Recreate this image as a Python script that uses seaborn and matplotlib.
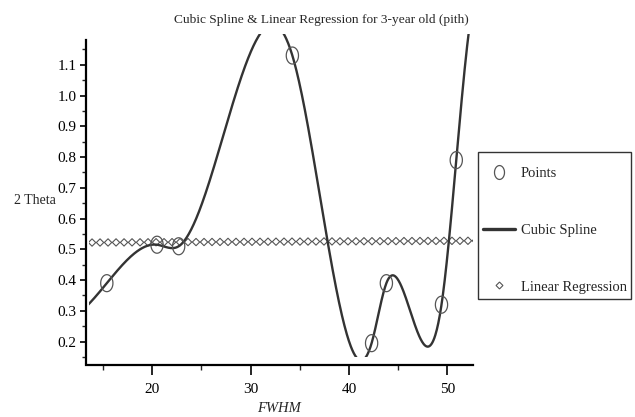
import numpy as np
import pandas as pd
import matplotlib
matplotlib.use("Agg")
import matplotlib.pyplot as plt
import seaborn as sns
from matplotlib.lines import Line2D
from matplotlib.patches import Rectangle

# ---- data ----
pts_x = [15.4, 20.5, 22.7, 34.25, 42.3, 43.8, 49.4, 50.9]
pts_y = [0.39, 0.515, 0.51, 1.13, 0.195, 0.39, 0.32, 0.79]
reg_intercept = 0.52
reg_slope = 0.00015
x_ticks = [20, 30, 40, 50]
x_minor = [15, 25, 35, 45]
y_ticks = [0.2, 0.3, 0.4, 0.5, 0.6, 0.7, 0.8, 0.9, 1.0, 1.1]
y_minor = [0.15, 0.25, 0.35, 0.45, 0.55, 0.65, 0.75, 0.85, 0.95, 1.05, 1.15]
title = "Cubic Spline & Linear Regression for 3-year old (pith)"
legend_labels = ["Points", "Cubic Spline", "Linear Regression"]


def natural_spline(xk, yk, xs):
    xk = np.asarray(xk, float); yk = np.asarray(yk, float)
    n = len(xk)
    h = np.diff(xk)
    A = np.zeros((n, n)); r = np.zeros(n)
    A[0, 0] = 1; A[-1, -1] = 1
    for i in range(1, n - 1):
        A[i, i - 1] = h[i - 1]
        A[i, i] = 2 * (h[i - 1] + h[i])
        A[i, i + 1] = h[i]
        r[i] = 3 * ((yk[i + 1] - yk[i]) / h[i] - (yk[i] - yk[i - 1]) / h[i - 1])
    c = np.linalg.solve(A, r)
    b = (yk[1:] - yk[:-1]) / h - h * (2 * c[:-1] + c[1:]) / 3
    d = (c[1:] - c[:-1]) / (3 * h)
    idx = np.clip(np.searchsorted(xk, xs) - 1, 0, n - 2)
    dx = xs - xk[idx]
    return yk[idx] + b[idx] * dx + c[idx] * dx ** 2 + d[idx] * dx ** 3


sns.set_style("ticks")
plt.rcParams["font.family"] = ["Liberation Serif", "DejaVu Serif"]

W, H = 635, 417
fig = plt.figure(figsize=(W / 100, H / 100), dpi=100)
L, R, T, B = 89, 473, 34, 357
ax = fig.add_axes([L / W, 1 - B / H, (R - L) / W, (B - T) / H])

xmin, xmax = 13.59, 52.6
ymin, ymax = 0.158, 1.2

xs = np.linspace(13.3, 53.0, 800)
spline_df = pd.DataFrame({"x": xs, "y": natural_spline(pts_x, pts_y, xs)})
reg_x = np.linspace(13.9, 52.9, 49)
reg_df = pd.DataFrame({"x": reg_x, "y": reg_intercept + reg_slope * reg_x})
pts_df = pd.DataFrame({"x": pts_x, "y": pts_y})

t = np.linspace(0, 2 * np.pi, 40)
ellipse = list(zip(0.72 * np.cos(t), np.sin(t)))

sns.lineplot(data=spline_df, x="x", y="y", ax=ax, color="#333333", lw=1.7,
             sort=False, estimator=None)
sns.scatterplot(data=reg_df, x="x", y="y", ax=ax, marker="D", s=14,
                facecolor="none", edgecolor="#555555", linewidth=0.8)
sns.scatterplot(data=pts_df, x="x", y="y", ax=ax, marker=ellipse, s=150,
                facecolor="none", edgecolor="#555555", linewidth=0.9, zorder=5)

ax.set_xlim(xmin, xmax)
ax.set_ylim(ymin, ymax)
ax.set_xticks(x_ticks)
ax.set_xticks(x_minor, minor=True)
ax.set_yticks(y_ticks)
ax.set_yticks(y_minor, minor=True)
ax.set_yticklabels([f"{v:.1f}" for v in y_ticks])
ax.tick_params(axis="x", which="major", length=7.2, width=1.2, pad=5.5, labelsize=11, colors="black")
ax.tick_params(axis="x", which="minor", length=3.6, width=1.0)
ax.tick_params(axis="y", which="major", length=4.5, width=1.2, pad=2.5, labelsize=11, colors="black")
ax.tick_params(axis="y", which="minor", length=2.6, width=1.0)
ax.set_xlabel("")
ax.set_ylabel("")

for s in ["top", "right"]:
    ax.spines[s].set_visible(False)
ax.spines["bottom"].set_position(("outward", 6))
ax.spines["left"].set_position(("outward", 2))
ax.spines["left"].set_bounds(0.132, 1.18)
ax.spines["bottom"].set_bounds(13.3, 52.6)
for s in ["left", "bottom"]:
    ax.spines[s].set_linewidth(1.6)
    ax.spines[s].set_color("black")

fig.text(321 / W, 1 - 20 / H, title, ha="center", va="center", fontsize=9.6)
fig.text(35 / W, 1 - 200 / H, "2 Theta", ha="center", va="center", fontsize=10)
fig.text(279 / W, 1 - 409 / H, "FWHM", ha="center", va="center", fontsize=10.5, style="italic")

# legend box
fig.patches.append(Rectangle((478 / W, 1 - 299 / H), (631 - 478) / W, (299 - 152) / H,
                             transform=fig.transFigure, fill=False,
                             edgecolor="#333333", linewidth=1.0))
handles = [
    Line2D([], [], ls="none", marker=ellipse, ms=10, mfc="none", mec="#555555", mew=0.9),
    Line2D([], [], color="#333333", lw=2.4),
    Line2D([], [], ls="none", marker="D", ms=3.5, mfc="none", mec="#555555", mew=0.8),
]
leg = fig.legend(handles, legend_labels, loc="upper left",
                 bbox_to_anchor=(483 / W, 1 - 167 / H), bbox_transform=fig.transFigure,
                 fontsize=10.5, frameon=False, labelspacing=2.98,
                 handlelength=2.2, handletextpad=0.41, borderpad=0, borderaxespad=0)

fig.savefig("out.png", dpi=100)
